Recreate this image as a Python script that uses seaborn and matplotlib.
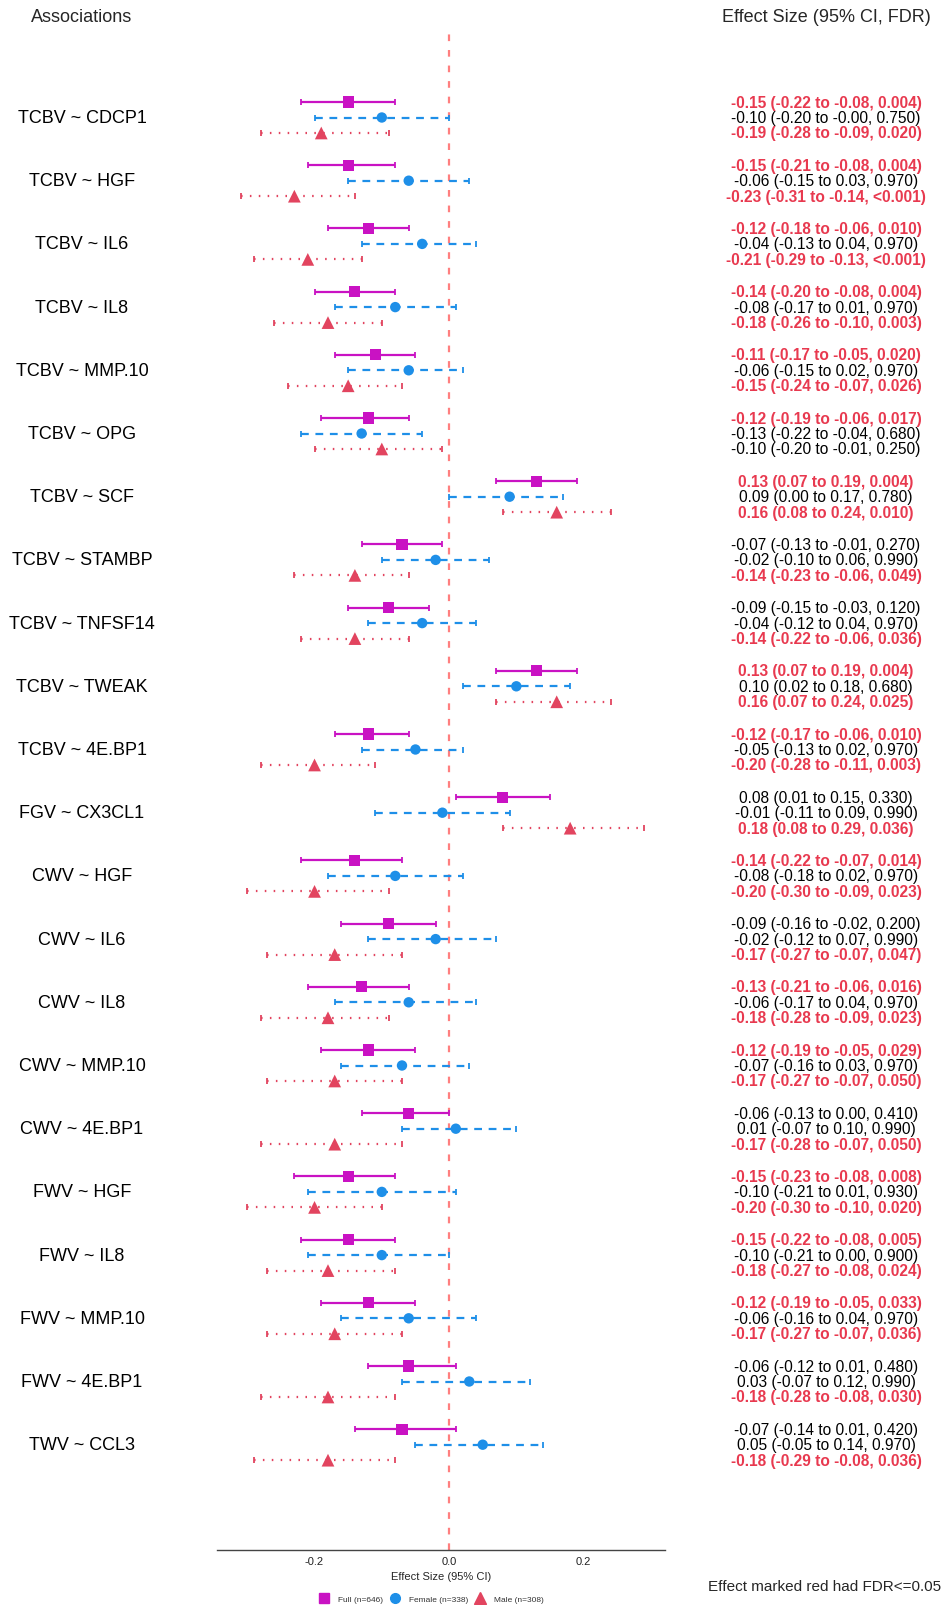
import numpy as np
import pandas as pd
import matplotlib
matplotlib.use("Agg")
import matplotlib.pyplot as plt
import matplotlib.transforms as mtransforms
from matplotlib.lines import Line2D
import seaborn as sns

# ---------------- data ----------------
labels = ["TCBV ~ CDCP1", "TCBV ~ HGF", "TCBV ~ IL6", "TCBV ~ IL8", "TCBV ~ MMP.10",
          "TCBV ~ OPG", "TCBV ~ SCF", "TCBV ~ STAMBP", "TCBV ~ TNFSF14", "TCBV ~ TWEAK",
          "TCBV ~ 4E.BP1", "FGV ~ CX3CL1", "CWV ~ HGF", "CWV ~ IL6", "CWV ~ IL8",
          "CWV ~ MMP.10", "CWV ~ 4E.BP1", "FWV ~ HGF", "FWV ~ IL8", "FWV ~ MMP.10",
          "FWV ~ 4E.BP1", "TWV ~ CCL3"]

full_est = [-0.15, -0.15, -0.12, -0.14, -0.11, -0.12, 0.13, -0.07, -0.09, 0.13, -0.12,
            0.08, -0.14, -0.09, -0.13, -0.12, -0.06, -0.15, -0.15, -0.12, -0.06, -0.07]
full_lo = [-0.22, -0.21, -0.18, -0.20, -0.17, -0.19, 0.07, -0.13, -0.15, 0.07, -0.17,
           0.01, -0.22, -0.16, -0.21, -0.19, -0.13, -0.23, -0.22, -0.19, -0.12, -0.14]
full_hi = [-0.08, -0.08, -0.06, -0.08, -0.05, -0.06, 0.19, -0.01, -0.03, 0.19, -0.06,
           0.15, -0.07, -0.02, -0.06, -0.05, 0.00, -0.08, -0.08, -0.05, 0.01, 0.01]
full_fdr = ["0.004", "0.004", "0.010", "0.004", "0.020", "0.017", "0.004", "0.270", "0.120",
            "0.004", "0.010", "0.330", "0.014", "0.200", "0.016", "0.029", "0.410", "0.008",
            "0.005", "0.033", "0.480", "0.420"]

fem_est = [-0.10, -0.06, -0.04, -0.08, -0.06, -0.13, 0.09, -0.02, -0.04, 0.10, -0.05,
           -0.01, -0.08, -0.02, -0.06, -0.07, 0.01, -0.10, -0.10, -0.06, 0.03, 0.05]
fem_lo = [-0.20, -0.15, -0.13, -0.17, -0.15, -0.22, 0.00, -0.10, -0.12, 0.02, -0.13,
          -0.11, -0.18, -0.12, -0.17, -0.16, -0.07, -0.21, -0.21, -0.16, -0.07, -0.05]
fem_hi = [-0.0, 0.03, 0.04, 0.01, 0.02, -0.04, 0.17, 0.06, 0.04, 0.18, 0.02,
          0.09, 0.02, 0.07, 0.04, 0.03, 0.10, 0.01, 0.00, 0.04, 0.12, 0.14]
fem_fdr = ["0.750", "0.970", "0.970", "0.970", "0.970", "0.680", "0.780", "0.990", "0.970",
           "0.680", "0.970", "0.990", "0.970", "0.990", "0.970", "0.970", "0.990", "0.930",
           "0.900", "0.970", "0.990", "0.970"]

male_est = [-0.19, -0.23, -0.21, -0.18, -0.15, -0.10, 0.16, -0.14, -0.14, 0.16, -0.20,
            0.18, -0.20, -0.17, -0.18, -0.17, -0.17, -0.20, -0.18, -0.17, -0.18, -0.18]
male_lo = [-0.28, -0.31, -0.29, -0.26, -0.24, -0.20, 0.08, -0.23, -0.22, 0.07, -0.28,
           0.08, -0.30, -0.27, -0.28, -0.27, -0.28, -0.30, -0.27, -0.27, -0.28, -0.29]
male_hi = [-0.09, -0.14, -0.13, -0.10, -0.07, -0.01, 0.24, -0.06, -0.06, 0.24, -0.11,
           0.29, -0.09, -0.07, -0.09, -0.07, -0.07, -0.10, -0.08, -0.07, -0.08, -0.08]
male_fdr = ["0.020", "<0.001", "<0.001", "0.003", "0.026", "0.250", "0.010", "0.049", "0.036",
            "0.025", "0.003", "0.036", "0.023", "0.047", "0.023", "0.050", "0.050", "0.020",
            "0.024", "0.036", "0.030", "0.036"]

groups = ["Full", "Female", "Male"]
legend_labels = ["Full (n=646)", "Female (n=338)", "Male (n=308)"]
xticks = [-0.2, 0.0, 0.2]

# ---------------- styles ----------------
colors = {"Full": "#C912C3", "Female": "#1E8FE8", "Male": "#E2445F"}
markers = {"Full": "s", "Female": "o", "Male": "^"}
msize = {"Full": 64, "Female": 56, "Male": 84}
lstyles = {"Full": "-", "Female": (0, (3.5, 3.0)), "Male": (0, (0.7, 3.3))}
offsets = {"Full": -0.245, "Female": 0.0, "Male": 0.245}
RED = "#E8394F"

rows = []
src = {"Full": (full_est, full_lo, full_hi, full_fdr),
       "Female": (fem_est, fem_lo, fem_hi, fem_fdr),
       "Male": (male_est, male_lo, male_hi, male_fdr)}
for g in groups:
    e, lo, hi, fd = src[g]
    for i in range(len(labels)):
        rows.append(dict(label=labels[i], group=g, row=i, y=i + offsets[g],
                         est=e[i], lo=lo[i], hi=hi[i], fdr=fd[i]))
df = pd.DataFrame(rows)

def fdr_value(s):
    return 0.0005 if s.startswith("<") else float(s)

# ---------------- figure ----------------
sns.set_theme(style="white")
plt.rcParams["font.family"] = ["Liberation Sans", "DejaVu Sans"]

W, H = 943, 1606
fig = plt.figure(figsize=(W / 100, H / 100), dpi=100)
ax_left, ax_right, ax_top, ax_bot = 217, 665, 32, 1551
ax = fig.add_axes([ax_left / W, 1 - ax_bot / H, (ax_right - ax_left) / W, (ax_bot - ax_top) / H])

row_h = 63.2
y0 = 118.5
ax.set_ylim((ax_bot - y0) / row_h, (ax_top - y0) / row_h)
ax.set_xlim(-0.345, 0.321)

ax.axvline(0, color="#FF7F7F", lw=1.6, ls=(0, (3.0, 4.0)), zorder=1)

for g in groups:
    d = df[df.group == g]
    eb = ax.errorbar(d.est, d.y, xerr=[d.est - d.lo, d.hi - d.est], fmt="none",
                     ecolor=colors[g], elinewidth=1.6, capsize=2.5, capthick=1.3, zorder=2)
    for lc in eb.lines[2]:
        lc.set_linestyle(lstyles[g])
    sns.scatterplot(data=d, x="est", y="y", marker=markers[g], color=colors[g],
                    s=msize[g], linewidth=0, edgecolor="none", legend=False, ax=ax, zorder=3)

ax.set_xticks(xticks)
ax.set_xticklabels([f"{t:.1f}" for t in xticks])
ax.tick_params(axis="x", length=0, pad=4, labelsize=8, labelcolor="#222222")
ax.set_yticks([])
ax.set_xlabel("")
ax.set_ylabel("")
for s in ["left", "top", "right"]:
    ax.spines[s].set_visible(False)
ax.spines["bottom"].set_color("#444444")
ax.spines["bottom"].set_linewidth(1.0)

# ---------------- texts ----------------
trans = mtransforms.blended_transform_factory(fig.transFigure, ax.transData)
for i, lab in enumerate(labels):
    fig.text(82 / W, i, lab, transform=trans, ha="center", va="center", fontsize=13, color="black")

for _, r in df.iterrows():
    txt = f"{r.est:.2f} ({r.lo:.2f} to {r.hi:.2f}, {r.fdr})"
    red = fdr_value(r.fdr) <= 0.05
    fig.text(826 / W, r.y, txt, transform=trans, ha="center", va="center", fontsize=11.2,
             color=RED if red else "black", fontweight="bold" if red else "normal")

fig.text(82 / W, 1 - 17 / H, "Associations", ha="center", va="center", fontsize=13)
fig.text(826 / W, 1 - 17 / H, "Effect Size (95% CI, FDR)", ha="center", va="center", fontsize=13)
fig.text(441 / W, 1 - 1577 / H, "Effect Size (95% CI)", ha="center", va="center", fontsize=8)
fig.text(941 / W, 1 - 1587 / H, "Effect marked red had FDR<=0.05", ha="right", va="center", fontsize=11)

handles = [Line2D([], [], ls="none", marker=markers[g], color=colors[g],
                  markersize={"Full": 7, "Female": 7, "Male": 8}[g]) for g in groups]
leg = fig.legend(handles, legend_labels, loc="center", bbox_to_anchor=(432 / W, 1 - 1600 / H),
                 ncol=3, frameon=False, fontsize=6, handletextpad=1.2, columnspacing=0.9,
                 handlelength=1.0, borderpad=0.0)
for t in leg.get_texts():
    t.set_color("#333333")

fig.savefig("out.png", dpi=100)
